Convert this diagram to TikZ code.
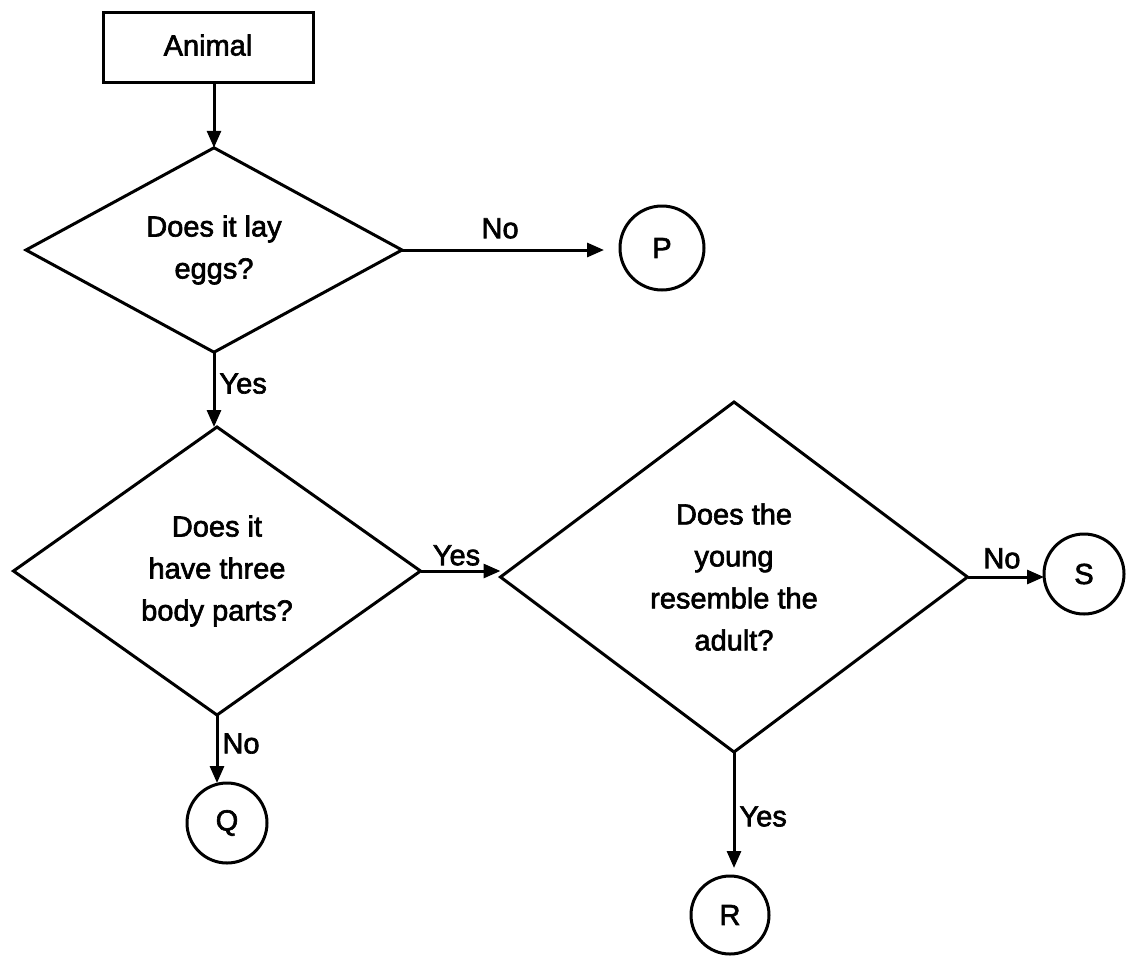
\documentclass[tikz,border=0pt]{standalone}
\usepackage{fontspec}
\setmainfont{Liberation Sans}[FakeBold=2.2]
\usetikzlibrary{shapes.geometric,arrows.meta}
\begin{document}
\begin{tikzpicture}[x=1pt,y=-1pt,
  every node/.style={font=\fontsize{29}{42}\selectfont, text=black},
  startbox/.style={draw, line width=3pt, minimum width=210pt, minimum height=70pt, inner sep=0pt, outer sep=0pt},
  decide/.style={draw, diamond, line width=3pt, inner sep=0pt, outer sep=0pt, align=center},
  endcircle/.style={draw, circle, line width=3pt, inner sep=0pt, outer sep=0pt},
  flow/.style={line width=3pt, -{Triangle[length=17pt,width=14pt]}},
  lbl/.style={inner sep=4pt}
]
\useasboundingbox (0,0) rectangle (1129,956);

\node[startbox] (box) at (208,47) {\raisebox{4pt}{Animal}};
\node[decide, minimum width=376pt, minimum height=196pt] (d1) at (214,250) {Does it lay\\eggs?};
\node[decide, minimum width=407pt, minimum height=288pt] (d2) at (217,571) {Does it\\have three\\body parts?};
\node[decide, minimum width=467pt, minimum height=350pt] (d3) at (734,577) {Does the\\young\\resemble the\\adult?};

\node[endcircle, minimum size=84pt] (P) at (662,248) {P};
\node[endcircle, minimum size=80pt] (S) at (1084,574) {S};
\node[endcircle, minimum size=80pt] (Q) at (227,823) {Q};
\node[endcircle, minimum size=78pt] (R) at (730,915) {R};

\draw[flow] (box.south -| d1.north) -- (d1.north);
\draw[flow, shorten >=16pt] (d1.east) -- (d1.east -| P.west)
  node[lbl, pos=0.45, above, yshift=6pt] {No};
\draw[flow] (d1.south) -- (d1.south |- d2.north)
  node[lbl, pos=0.42, right] {Yes};
\draw[flow] (d2.east) -- (d2.east -| d3.west)
  node[lbl, pos=0.45, above] {Yes};
\draw[flow] (d3.east) -- (d3.east -| S.west)
  node[lbl, pos=0.45, above, yshift=3pt] {No};
\draw[flow] (d2.south) -- (d2.south |- Q.north)
  node[lbl, pos=0.42, right] {No};
\draw[flow, shorten >=8pt] (d3.south) -- (d3.south |- R.north)
  node[lbl, pos=0.52, right] {Yes};
\end{tikzpicture}
\end{document}
